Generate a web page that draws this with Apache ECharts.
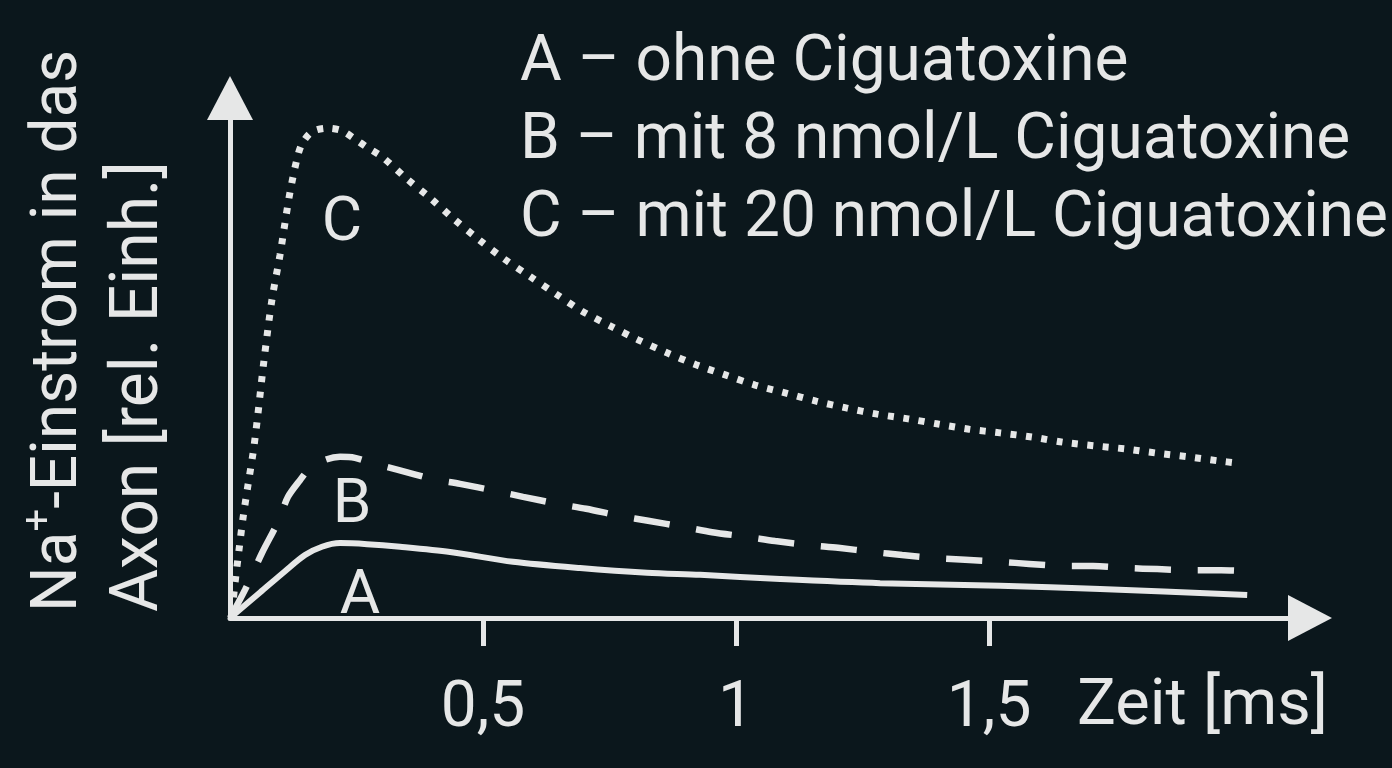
<!DOCTYPE html>
<html>
<head>
<meta charset="utf-8">
<script src="https://cdn.jsdelivr.net/npm/echarts@6/dist/echarts.min.js"></script>
<style>
html,body{margin:0;padding:0;background:#0b171c;}
#chart{width:1392px;height:768px;}
</style>
</head>
<body>
<div id="chart"></div>
<script>
// Time axis [ms]
const xTicks = [0.5, 1, 1.5];
const xTickLabels = ['0,5', '1', '1,5'];
// A – ohne Ciguatoxine  [ms, rel. units]
const seriesA = [
  [0, 0], [0.0593, 4.9], [0.1087, 9.0], [0.1482, 12.1], [0.1818, 13.7],
  [0.2174, 14.4], [0.2708, 14.2], [0.3360, 13.7], [0.4348, 12.7], [0.5593, 10.8],
  [0.6917, 9.6], [0.8241, 8.7], [0.9289, 8.3], [1.0870, 7.5], [1.2846, 6.7],
  [1.5217, 6.2], [1.7194, 5.6], [2.0099, 4.4]
];
// B – mit 8 nmol/L Ciguatoxine
const seriesB = [
  [0, 0], [0.0296, 5.4], [0.0632, 12.5], [0.0949, 18.5], [0.1146, 23.3], [0.1383, 26.5],
  [0.1581, 28.8], [0.1877, 30.4], [0.2174, 31.0], [0.2470, 30.8], [0.2806, 29.8],
  [0.3320, 28.5], [0.4012, 26.7], [0.4545, 25.8], [0.5257, 24.4], [0.5791, 23.3],
  [0.6502, 21.9], [0.7036, 21.0], [0.7727, 19.6], [0.8261, 18.7], [0.8972, 17.5],
  [0.9526, 16.5], [1.0217, 15.6], [1.0771, 14.8], [1.1462, 14.0], [1.2016, 13.5],
  [1.2708, 12.7], [1.3281, 12.1], [1.3972, 11.5], [1.4526, 11.2], [1.5237, 10.8],
  [1.5791, 10.4], [1.6482, 10.0], [1.7055, 10.0], [1.7747, 9.6], [1.8320, 9.4],
  [1.9012, 9.2], [1.9585, 9.2], [2.0119, 9.0]
];
// C – mit 20 nmol/L Ciguatoxine
const seriesC = [
  [0.004, 1.0], [0.0099, 6.7], [0.0178, 13.1], [0.0257, 19.2], [0.0356, 25.6],
  [0.0455, 31.7], [0.0534, 37.7], [0.0672, 49.6], [0.0830, 61.3], [0.0988, 69.8],
  [0.1087, 76.0], [0.1186, 81.9], [0.1324, 88.3], [0.1423, 91.2], [0.1621, 93.5],
  [0.1917, 94.2], [0.2213, 93.7], [0.2470, 92.1], [0.2727, 90.4], [0.3004, 88.7],
  [0.3478, 84.6], [0.3953, 80.8], [0.4427, 76.7], [0.4901, 72.9], [0.5395, 69.2],
  [0.5909, 65.8], [0.6443, 62.3], [0.6957, 59.0], [0.7510, 56.2], [0.8063, 53.5],
  [0.8636, 51.0], [0.9209, 48.7], [0.9802, 46.7], [1.0375, 44.8], [1.0968, 43.3],
  [1.1581, 41.7], [1.2174, 40.4], [1.2787, 39.2], [1.3399, 38.3], [1.3992, 37.3],
  [1.4605, 36.3], [1.5217, 35.6], [1.5850, 34.8], [1.6462, 33.8], [1.7095, 33.1],
  [1.7708, 32.5], [1.8320, 31.7], [1.8933, 31.0], [1.9545, 30.2], [1.9901, 29.8]
];
const legendLines = [
  'A – ohne Ciguatoxine',
  'B – mit 8 nmol/L Ciguatoxine',
  'C – mit 20 nmol/L Ciguatoxine'
];
const curveLabels = ['A', 'B', 'C'];
const xName = 'Zeit [ms]';
const yNameLine1 = ['Na', '+', '-Einstrom in das'];
const yNameLine2 = 'Axon [rel. Einh.]';

const FG = '#e6e7e7';
const FONT = 'Roboto, "Noto Sans", sans-serif';

const chart = echarts.init(document.getElementById('chart'), null, {renderer: 'canvas'});

const option = {
  backgroundColor: '#0b171c',
  animation: false,
  grid: {left: 230, right: 82, top: 98, bottom: 150, containLabel: false},
  xAxis: {
    type: 'value', min: 0, max: 2.134, interval: 0.5,
    axisLine: {show: true, lineStyle: {color: FG, width: 5}, symbol: ['none', 'triangle'], symbolSize: [46, 44]},
    axisTick: {show: true, customValues: xTicks, length: 28, lineStyle: {color: FG, width: 5}},
    axisLabel: {show: true, customValues: xTicks, margin: 60, color: FG, fontSize: 64, fontFamily: FONT,
      formatter: function (v) { const i = xTicks.indexOf(v); return i >= 0 ? xTickLabels[i] : ''; }},
    splitLine: {show: false}
  },
  yAxis: {
    type: 'value', min: 0, max: 100,
    axisLine: {show: true, lineStyle: {color: FG, width: 5}, symbol: ['none', 'triangle'], symbolSize: [46, 44]},
    axisTick: {show: false}, axisLabel: {show: false}, splitLine: {show: false}
  },
  series: [
    {name: 'A', type: 'line', data: seriesA, showSymbol: false, smooth: 0.3,
      lineStyle: {color: FG, width: 6}},
    {name: 'B', type: 'line', data: seriesB, showSymbol: false, smooth: 0.3,
      lineStyle: {color: FG, width: 6.5, type: [36, 27]}},
    {name: 'C', type: 'line', data: seriesC, showSymbol: false, smooth: 0.3,
      lineStyle: {color: FG, width: 7, type: [6, 9.5], cap: 'butt'}}
  ],
  graphic: [
    {type: 'text', x: 520, y: 64, style: {text: legendLines[0], fill: FG, font: '64px ' + FONT, verticalAlign: 'middle'}},
    {type: 'text', x: 520, y: 142, style: {text: legendLines[1], fill: FG, font: '64px ' + FONT, verticalAlign: 'middle'}},
    {type: 'text', x: 520, y: 220, style: {text: legendLines[2], fill: FG, font: '64px ' + FONT, verticalAlign: 'middle'}},
    {type: 'text', x: 342, y: 224, style: {text: curveLabels[2], fill: FG, font: '62px ' + FONT, align: 'center', verticalAlign: 'middle'}},
    {type: 'text', x: 352, y: 506, style: {text: curveLabels[1], fill: FG, font: '62px ' + FONT, align: 'center', verticalAlign: 'middle'}},
    {type: 'text', x: 360, y: 597, style: {text: curveLabels[0], fill: FG, font: '62px ' + FONT, align: 'center', verticalAlign: 'middle'}},
    {type: 'text', x: 1077, y: 708, style: {text: xName, fill: FG, font: '65px ' + FONT, align: 'left', verticalAlign: 'middle'}},
    {type: 'text', x: 55, y: 612, rotation: Math.PI / 2,
      style: {
        text: '{n|' + yNameLine1[0] + '}{s|' + yNameLine1[1] + '}{n|' + yNameLine1[2] + '}',
        align: 'left', verticalAlign: 'middle',
        rich: {
          n: {fill: FG, fontSize: 64, fontFamily: FONT, lineHeight: 74, verticalAlign: 'bottom'},
          s: {fill: FG, fontSize: 40, fontFamily: FONT, lineHeight: 74, verticalAlign: 'top', padding: [2, 0, 0, 0]}
        }
      }},
    {type: 'text', x: 140, y: 612, rotation: Math.PI / 2,
      style: {text: yNameLine2, fill: FG, font: '66px ' + FONT, align: 'left', verticalAlign: 'middle'}}
  ]
};
chart.setOption(option);
</script>
</body>
</html>
